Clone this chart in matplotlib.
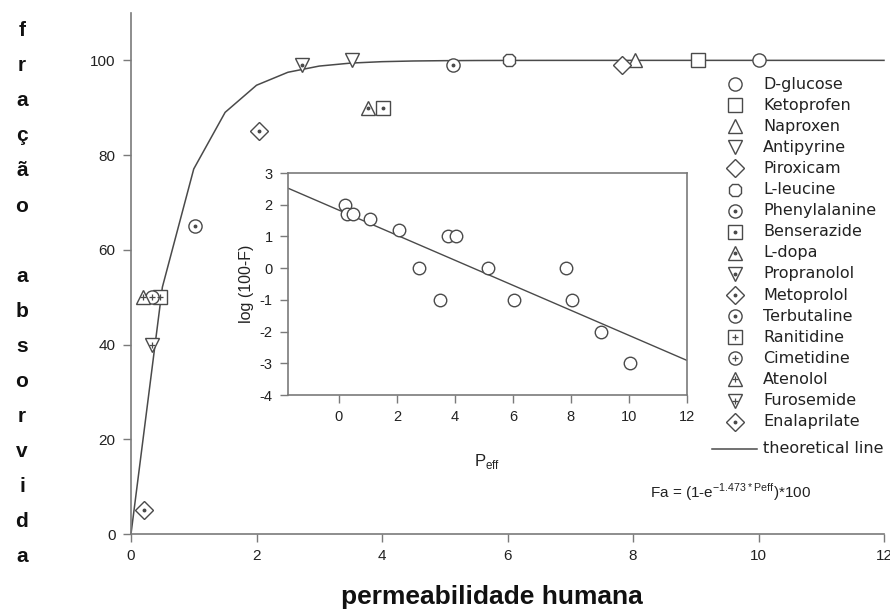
import numpy as np
import matplotlib
matplotlib.use("Agg")
import matplotlib.pyplot as plt
from matplotlib.lines import Line2D

plt.rcParams['font.family'] = ['Liberation Sans', 'DejaVu Sans']
plt.rcParams['axes.unicode_minus'] = False

# ---- data -------------------------------------------------------------
drugs = ["D-glucose", "Ketoprofen", "Naproxen", "Antipyrine", "Piroxicam",
         "L-leucine", "Phenylalanine", "Benserazide", "L-dopa", "Propranolol",
         "Metoprolol", "Terbutaline", "Ranitidine", "Cimetidine", "Atenolol",
         "Furosemide", "Enalaprilate"]
peff = [10.0, 9.03, 8.03, 3.52, 7.82, 6.03, 5.13, 4.01, 3.77, 2.72,
        2.04, 1.02, 0.46, 0.34, 0.19, 0.34, 0.21]
fa = [100, 100, 100, 100, 99, 100, 99, 90, 90, 99,
      85, 65, 50, 50, 50, 40, 5]

# marker shape and inner symbol ('' = none, '.' = dot, '+' = cross)
shapes = ['o', 's', '^', 'v', 'D', '8', 'o', 's', '^', 'v',
          'D', 'o', 's', 'o', '^', 'v', 'D']
inner = ['', '', '', '', '', '', '.', '.', '.', '.',
         '.', '.', '+', '+', '+', '+', '.']

# theoretical absorption model Fa = (1 - exp(-k*Peff)) * 100
k_abs = 1.473
p_curve = np.arange(0, 12.01, 0.5)

# inset: log(100-F) against Peff
inset_p = [0.23, 0.27, 0.5, 1.06, 2.07, 2.76, 3.5, 3.77, 4.04, 5.15,
           6.03, 7.83, 8.05, 9.04, 10.02]
inset_log = [2.0, 1.7, 1.7, 1.55, 1.2, 0.0, -1.0, 1.0, 1.0, 0.0,
             -1.0, 0.0, -1.0, -2.0, -3.0]
fit_intercept = 1.83
fit_slope = -0.395
fit_x = [-1.75, 12.0]

ylabel_letters = "fração absorvida"

# ---- styling ----------------------------------------------------------
W, H = 890, 612
GRAY = '#4a4a4a'
AX_GRAY = '#7a7a7a'
MS = 9.5


def fx(px):
    return px / W


def fy(py):
    return 1 - py / H


fig = plt.figure(figsize=(W / 100, H / 100), dpi=100)

ax = fig.add_axes([fx(131), fy(534), fx(884 - 131), (534 - 13) / H])
ax.set_xlim(0, 12)
ax.set_ylim(0, 110)
for s in ['top', 'right']:
    ax.spines[s].set_visible(False)
for s in ['left', 'bottom']:
    ax.spines[s].set_color(AX_GRAY)
    ax.spines[s].set_linewidth(1.2)
ax.set_xticks(np.arange(0, 13, 2))
ax.set_yticks(np.arange(0, 101, 20))
ax.tick_params(direction='out', length=6, width=1, color=AX_GRAY,
               labelsize=11, labelcolor='#222222', pad=5)

ax.plot(p_curve, (1 - np.exp(-k_abs * p_curve)) * 100, color=GRAY, lw=1.1,
        zorder=2, clip_on=False)


def draw_marker(a, x, y, shape, sym, ms=MS, **kw):
    size = ms * (0.95 if shape == 'D' else 1)
    a.plot([x], [y], linestyle='none', marker=shape, ms=size,
           mfc='white', mec=GRAY, mew=1.0, zorder=3, **kw)
    if sym == '.':
        a.plot([x], [y], linestyle='none', marker='o', ms=1.8, mfc=GRAY,
               mec=GRAY, zorder=4, **kw)
    elif sym == '+':
        a.plot([x], [y], linestyle='none', marker='+', ms=ms * 0.5, mec=GRAY,
               mew=0.9, zorder=4, **kw)


for x, y, sh, sy in zip(peff, fa, shapes, inner):
    draw_marker(ax, x, y, sh, sy, clip_on=False)

# ---- legend (drawn entry by entry in figure coordinates) --------------
leg_x_marker = 735
leg_x_text = 763
leg_y0 = 84
leg_dy = 21.1
for i, (name, sh, sy) in enumerate(zip(drugs, shapes, inner)):
    py = leg_y0 + leg_dy * i
    draw_marker(ax, fx(leg_x_marker), fy(py), sh, sy, transform=fig.transFigure,
                clip_on=False)
    fig.text(fx(leg_x_text), fy(py), name, fontsize=11.5, va='center', ha='left',
             color='#222222', family=['DejaVu Sans'])
py_line = leg_y0 + leg_dy * len(drugs) + 6
fig.add_artist(Line2D([fx(712), fx(757)], [fy(py_line), fy(py_line)],
                      color=GRAY, lw=1.1))
fig.text(fx(leg_x_text), fy(py_line), "theoretical line", fontsize=11.5,
         va='center', ha='left', color='#222222', family=['DejaVu Sans'])

fig.text(fx(650), fy(492), r"Fa = (1-e$^{\mathregular{-1.473*Peff}}$)*100",
         fontsize=11, va='center', ha='left', color='#222222')

# ---- inset ------------------------------------------------------------
axi = fig.add_axes([fx(288), fy(395), fx(687 - 288), (395 - 173) / H])
axi.set_xlim(-1.75, 12)
axi.set_ylim(-4, 3)
for s in axi.spines.values():
    s.set_color(AX_GRAY)
    s.set_linewidth(1.2)
axi.set_xticks(np.arange(0, 13, 2))
axi.set_yticks(np.arange(-4, 4, 1))
axi.tick_params(direction='out', length=6, width=1, color=AX_GRAY,
                labelsize=10.5, labelcolor='#222222', pad=5)
fx_arr = np.array(fit_x)
axi.plot(fx_arr, fit_intercept + fit_slope * fx_arr, color=GRAY, lw=1.0,
         zorder=2)
axi.plot(inset_p, inset_log, linestyle='none', marker='o', ms=9, mfc='white',
         mec=GRAY, mew=1.0, zorder=3)
axi.set_ylabel("log (100-F)", fontsize=11.5, color='#222222', labelpad=4)
axi.set_xlabel(r"P$_{\mathregular{eff}}$", fontsize=12, color='#222222',
               labelpad=20)

# ---- axis titles ------------------------------------------------------
fig.text(fx(492), fy(597), "permeabilidade humana", fontsize=19,
         fontweight='bold', ha='center', va='center', color='#111111')

slot = 0
for ch in ylabel_letters:
    if ch != ' ':
        fig.text(fx(22), fy(36 + 35.1 * slot), ch, fontsize=15,
                 fontweight='bold', ha='center', va='baseline',
                 color='#111111')
    slot += 1

fig.savefig("out.png", dpi=100)
